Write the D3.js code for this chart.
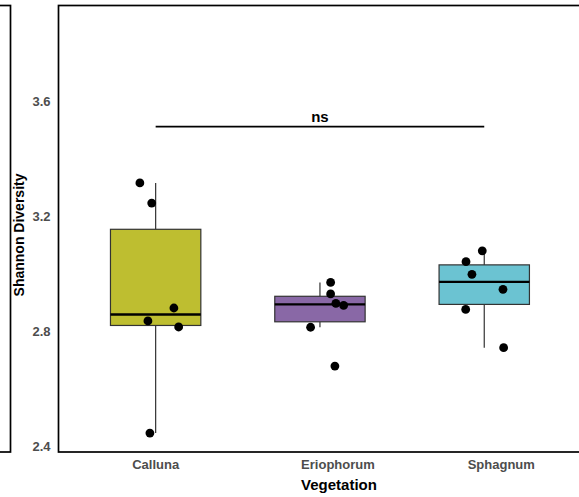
<!DOCTYPE html>
<html>
<head>
<meta charset="utf-8">
<script src="https://cdn.jsdelivr.net/npm/d3@7"></script>
<style>
  html, body { margin: 0; padding: 0; background: #fff; }
  svg { display: block; font-family: "Liberation Sans", Arial, Helvetica, sans-serif; }
</style>
</head>
<body>
<svg id="chart" width="579" height="497"></svg>
<script>
// Shannon diversity per vegetation type (six samples each)
const categories = ["Calluna", "Eriophorum", "Sphagnum"];
const calluna    = [3.315, 3.245, 2.880, 2.835, 2.814, 2.445];
const eriophorum = [2.969, 2.929, 2.896, 2.889, 2.813, 2.678];
const sphagnum   = [3.079, 3.041, 2.997, 2.945, 2.875, 2.742];
const seriesValues = [calluna, eriophorum, sphagnum];
// horizontal jitter of each sample point, as a fraction of the band step
const callunaJitter    = [-0.096, -0.024, 0.111, -0.047, 0.140, -0.035];
const eriophorumJitter = [0.065, 0.065, 0.097, 0.144, -0.057, 0.091];
const sphagnumJitter   = [-0.012, -0.111, -0.075, 0.114, -0.113, 0.118];
const jitters = [callunaJitter, eriophorumJitter, sphagnumJitter];
const fills = ["#BEBE30", "#8968A6", "#6BC3D2"];
const yTicks = [2.4, 2.8, 3.2, 3.6];
const yDomain = [2.4, 3.6];
const signifY = 3.511;
const signifLabel = "ns";
const xTitle = "Vegetation";
const yTitle = "Shannon Diversity";

const svg = d3.select("#chart");

// panel geometry
const panelLeft = 58.5, panelTop = 5.5, panelBottom = 452;
const x = d3.scaleBand().domain(categories).range([73.5, 566.4]).padding(0);
const y = d3.scaleLinear().domain(yDomain).range([446, 101]);
const step = x.step();
const boxW = step * 0.55;
const labelNudge = [0, 18, 17];

// neighbouring panel edge on the left
svg.append("rect")
  .attr("x", -50).attr("y", panelTop)
  .attr("width", 60.5).attr("height", panelBottom - panelTop)
  .attr("fill", "none").attr("stroke", "#000").attr("stroke-width", 1.7);

// main panel border
svg.append("rect")
  .attr("x", panelLeft).attr("y", panelTop)
  .attr("width", 620 - panelLeft).attr("height", panelBottom - panelTop)
  .attr("fill", "none").attr("stroke", "#000").attr("stroke-width", 1.7);

// y axis labels
const yAxis = svg.append("g")
  .attr("transform", `translate(${panelLeft},0)`)
  .call(d3.axisLeft(y).tickValues(yTicks).tickFormat(d3.format(".1f")).tickSize(0).tickPadding(8));
yAxis.select(".domain").remove();
yAxis.selectAll("text")
  .attr("font-family", "'Liberation Sans', Arial, sans-serif")
  .attr("font-size", 13).attr("font-weight", "bold").attr("fill", "#4d4d4d");

// x axis labels
const xAxis = svg.append("g")
  .attr("transform", `translate(0,${panelBottom})`)
  .call(d3.axisBottom(x).tickSize(0).tickPadding(8));
xAxis.select(".domain").remove();
xAxis.selectAll(".tick text")
  .attr("font-family", "'Liberation Sans', Arial, sans-serif")
  .attr("font-size", 13).attr("font-weight", "bold").attr("fill", "#4d4d4d")
  .attr("dx", (d, i) => labelNudge[i]);

// axis titles
svg.append("text")
  .attr("x", 339).attr("y", 490)
  .attr("text-anchor", "middle")
  .attr("font-size", 15).attr("font-weight", "bold").attr("fill", "#000")
  .text(xTitle);
svg.append("text")
  .attr("transform", "translate(23.5,235) rotate(-90)")
  .attr("text-anchor", "middle")
  .attr("font-size", 14).attr("font-weight", "bold").attr("fill", "#000")
  .text(yTitle);

// box statistics (Tukey whiskers)
const stats = seriesValues.map(vals => {
  const s = vals.slice().sort(d3.ascending);
  const q1 = d3.quantile(s, 0.25), med = d3.quantile(s, 0.5), q3 = d3.quantile(s, 0.75);
  const iqr = q3 - q1;
  const lo = d3.min(s.filter(v => v >= q1 - 1.5 * iqr));
  const hi = d3.max(s.filter(v => v <= q3 + 1.5 * iqr));
  return { q1, med, q3, lo, hi };
});

const boxes = svg.append("g");
categories.forEach((c, i) => {
  const cx = x(c) + step / 2;
  const st = stats[i];
  const g = boxes.append("g");
  // whiskers
  g.append("line")
    .attr("x1", cx).attr("x2", cx)
    .attr("y1", y(st.q3)).attr("y2", y(st.hi))
    .attr("stroke", "#333").attr("stroke-width", 1.2);
  g.append("line")
    .attr("x1", cx).attr("x2", cx)
    .attr("y1", y(st.q1)).attr("y2", y(st.lo))
    .attr("stroke", "#333").attr("stroke-width", 1.2);
  // box
  g.append("rect")
    .attr("x", cx - boxW / 2).attr("y", y(st.q3))
    .attr("width", boxW).attr("height", y(st.q1) - y(st.q3))
    .attr("fill", fills[i]).attr("stroke", "#333").attr("stroke-width", 1.2);
  // median
  g.append("line")
    .attr("x1", cx - boxW / 2).attr("x2", cx + boxW / 2)
    .attr("y1", y(st.med)).attr("y2", y(st.med))
    .attr("stroke", "#000").attr("stroke-width", 2.4);
});

// jittered sample points
categories.forEach((c, i) => {
  const cx = x(c) + step / 2;
  svg.append("g").selectAll("circle")
    .data(seriesValues[i])
    .join("circle")
    .attr("cx", (d, j) => cx + jitters[i][j] * step)
    .attr("cy", d => y(d))
    .attr("r", 4.4)
    .attr("fill", "#000");
});

// significance bracket
const x1 = x(categories[0]) + step / 2, x2 = x(categories[2]) + step / 2;
svg.append("line")
  .attr("x1", x1).attr("x2", x2)
  .attr("y1", y(signifY)).attr("y2", y(signifY))
  .attr("stroke", "#000").attr("stroke-width", 1.7);
svg.append("text")
  .attr("x", (x1 + x2) / 2).attr("y", y(signifY) - 5)
  .attr("text-anchor", "middle")
  .attr("font-size", 15).attr("font-weight", "bold").attr("fill", "#000")
  .text(signifLabel);
</script>
</body>
</html>
